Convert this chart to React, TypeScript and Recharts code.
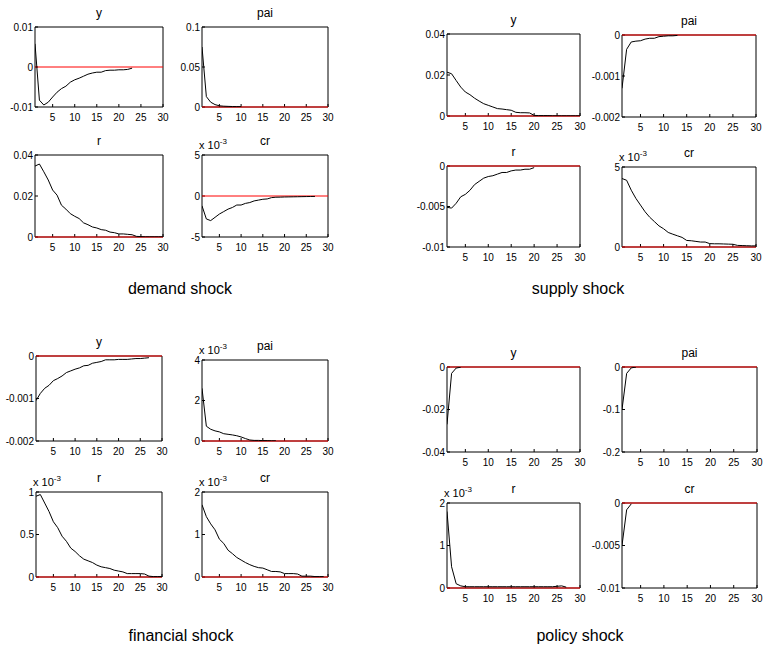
import React from 'react';
import { LineChart, Line, XAxis, YAxis, ReferenceLine } from 'recharts';

const periods = [1, 2, 3, 4, 5, 6, 7, 8, 9, 10, 11, 12, 13, 14, 15, 16, 17, 18, 19, 20, 21, 22, 23, 24, 25, 26, 27, 28, 29, 30];
const xTicks = [5, 10, 15, 20, 25, 30];

// demand shock
const demandY = [0.0058, -0.0083, -0.0095, -0.0088, -0.0075, -0.0063, -0.0054, -0.0048, -0.0038, -0.0032, -0.0028, -0.0023, -0.0018, -0.0015, -0.0013, -0.0013, -0.0009, -0.0008, -0.0008, -0.0007, -0.0007, -0.0006, -0.0003];
const demandPai = [0.075, 0.013, 0.006, 0.003, 0.0015, 0.001, 0.0008, 0.0006, 0.0005, 0.0004];
const demandR = [0.0346, 0.0356, 0.0318, 0.0278, 0.0229, 0.0204, 0.0155, 0.0136, 0.0114, 0.0101, 0.009, 0.0069, 0.006, 0.0049, 0.0044, 0.0036, 0.0033, 0.0024, 0.0021, 0.0015, 0.0015, 0.0013, 0.0011, 0.0003, 0.0002, 0.0001, 0.0001, 0.0001, 0.0001, 0.0001];
const demandCr = [-1.2, -2.8, -3.0, -2.6, -2.2, -1.9, -1.6, -1.4, -1.1, -1.1, -0.9, -0.8, -0.6, -0.5, -0.4, -0.36, -0.2, -0.15, -0.14, -0.12, -0.11, -0.1, -0.09, -0.08, -0.07, -0.06, -0.05];

// supply shock
const supplyY = [0.0214, 0.0206, 0.0173, 0.0141, 0.0117, 0.0104, 0.0087, 0.0073, 0.006, 0.0052, 0.0044, 0.0036, 0.0034, 0.0031, 0.0028, 0.0018, 0.0016, 0.0016, 0.0015, 0.0003, 0.0002, 0.0002, 0.0002, 0.0001, 0.0001, 0.0001, 0.0001, 0.0001, 0.0001, 0.0001];
const supplyPai = [-0.0013, -0.00035, -0.00017, -0.00015, -0.00014, -0.0001, -0.00008, -0.00008, -0.00004, -0.00003, -0.00002, -0.00002, -0.00001];
const supplyR = [-0.0051, -0.0052, -0.0046, -0.0038, -0.0035, -0.003, -0.0023, -0.0019, -0.0015, -0.0013, -0.0012, -0.001, -0.0008, -0.0008, -0.0006, -0.0005, -0.0005, -0.0004, -0.0004, -0.0002];
const supplyCr = [4.28, 4.17, 3.55, 3.04, 2.62, 2.2, 1.86, 1.59, 1.32, 1.14, 0.91, 0.8, 0.7, 0.6, 0.41, 0.39, 0.35, 0.31, 0.31, 0.21, 0.2, 0.2, 0.19, 0.18, 0.17, 0.1, 0.09, 0.08, 0.07, 0.07];

// financial shock
const financialY = [-0.00105, -0.00088, -0.00076, -0.00069, -0.00058, -0.00053, -0.00047, -0.00039, -0.00035, -0.00031, -0.00028, -0.00023, -0.00022, -0.00017, -0.00015, -0.00013, -0.00009, -0.00009, -0.00009, -0.00008, -0.00008, -0.00008, -0.00007, -0.00006, -0.00006, -0.00005, -0.00004];
const financialPai = [2.6, 0.73, 0.58, 0.5, 0.45, 0.36, 0.33, 0.3, 0.26, 0.2, 0.12, 0.05, 0.03, 0.03, 0.02, 0.02, 0.01, 0.01];
const financialR = [0.95, 0.97, 0.87, 0.77, 0.65, 0.58, 0.48, 0.42, 0.34, 0.3, 0.25, 0.21, 0.19, 0.17, 0.14, 0.12, 0.11, 0.1, 0.08, 0.07, 0.06, 0.04, 0.04, 0.04, 0.04, 0.035, 0.01, 0.005, 0.005, 0.005];
const financialCr = [1.7, 1.42, 1.25, 1.11, 0.89, 0.79, 0.63, 0.55, 0.46, 0.4, 0.34, 0.29, 0.25, 0.22, 0.21, 0.17, 0.13, 0.13, 0.12, 0.08, 0.08, 0.08, 0.07, 0.02, 0.02, 0.02, 0.01, 0.01, 0.01];

// policy shock
const policyY = [-0.027, -0.003, -0.0005, -0.0001];
const policyPai = [-0.1, -0.015, -0.002, -0.0003];
const policyR = [1.8, 0.5, 0.1, 0.05, 0.03, 0.03, 0.03, 0.03, 0.03, 0.03, 0.03, 0.03, 0.03, 0.03, 0.03, 0.03, 0.03, 0.03, 0.03, 0.03, 0.03, 0.03, 0.03, 0.03, 0.04, 0.05, 0.02];
const policyCr = [-0.005, -0.0008, -0.0001];

const font = '"Liberation Sans", Arial, sans-serif';

type PanelProps = {
  box: [number, number, number, number];
  title: string;
  values: number[];
  domain: [number, number];
  ticks: number[];
  scaled?: boolean;
};

function Panel({ box, title, values, domain, ticks, scaled }: PanelProps) {
  const [x0, y0, x1, y1] = box;
  const w = x1 - x0;
  const h = y1 - y0;
  const data = periods.map((p, i) => ({ x: p, v: i < values.length ? values[i] : null }));
  const tickStyle = { fontSize: 10, fontFamily: font, fill: '#000' };
  return (
    <>
      <div style={{ position: 'absolute', left: x0, width: w, top: y0 - 21, textAlign: 'center', fontSize: 12, lineHeight: '14px', fontFamily: font }}>
        {title}
      </div>
      {scaled && (
        <div style={{ position: 'absolute', left: x0 - 3, top: y0 - 16, fontSize: 11, lineHeight: '13px', fontFamily: font, whiteSpace: 'nowrap' }}>
          x 10<sup style={{ fontSize: 8, verticalAlign: 'top', position: 'relative', top: -4 }}>-3</sup>
        </div>
      )}
      <div style={{ position: 'absolute', left: x0 - 40, top: y0 - 24 }}>
        <LineChart width={w + 50} height={h + 44} data={data} margin={{ top: 23, right: 9, bottom: 0, left: 0 }}>
          <XAxis dataKey="x" type="number" domain={[1, 30]} ticks={xTicks} interval={0} height={20}
            tickSize={-3} tickMargin={10} stroke="#000" tick={tickStyle} allowDataOverflow />
          <XAxis xAxisId="t" orientation="top" dataKey="x" type="number" domain={[1, 30]} ticks={xTicks}
            interval={0} height={1} tickSize={-3} tick={false} stroke="#000" allowDataOverflow />
          <YAxis type="number" domain={domain} ticks={ticks} interval={0} width={40} tickSize={-3} tickMargin={5}
            stroke="#000" tick={tickStyle} allowDataOverflow tickFormatter={(v: number) => String(v)} />
          <YAxis yAxisId="r" orientation="right" type="number" domain={domain} ticks={ticks} interval={0} width={1}
            tickSize={-3} tick={false} stroke="#000" allowDataOverflow />
          <ReferenceLine y={0} stroke="#ff0000" strokeWidth={1} zIndex={600} />
          <Line dataKey="v" stroke="#000" strokeWidth={1} dot={false} isAnimationActive={false} zIndex={700} />
          <Line dataKey="v" xAxisId="t" yAxisId="r" stroke="none" dot={false} legendType="none" isAnimationActive={false} />
        </LineChart>
      </div>
    </>
  );
}

function Caption({ x, y, text }: { x: number; y: number; text: string }) {
  return (
    <div style={{ position: 'absolute', left: x - 100, width: 200, top: y - 10, textAlign: 'center', fontSize: 16, lineHeight: '20px', fontFamily: font }}>
      {text}
    </div>
  );
}

export default function App() {
  return (
    <div style={{ position: 'absolute', left: 0, top: 0, width: 765, height: 649, background: '#fff', overflow: 'hidden' }}>
      <Panel box={[35, 27, 163, 107]} title="y" values={demandY} domain={[-0.01, 0.01]} ticks={[-0.01, 0, 0.01]} />
      <Panel box={[202, 27, 328, 107]} title="pai" values={demandPai} domain={[0, 0.1]} ticks={[0, 0.05, 0.1]} />
      <Panel box={[35, 155, 163, 237]} title="r" values={demandR} domain={[0, 0.04]} ticks={[0, 0.02, 0.04]} />
      <Panel box={[202, 155, 328, 237]} title="cr" values={demandCr} domain={[-5, 5]} ticks={[-5, 0, 5]} scaled />
      <Caption x={180} y={289} text="demand shock" />

      <Panel box={[447, 34, 580, 116]} title="y" values={supplyY} domain={[0, 0.04]} ticks={[0, 0.02, 0.04]} />
      <Panel box={[622, 35, 756, 117]} title="pai" values={supplyPai} domain={[-0.002, 0]} ticks={[-0.002, -0.001, 0]} />
      <Panel box={[447, 166, 580, 247]} title="r" values={supplyR} domain={[-0.01, 0]} ticks={[-0.01, -0.005, 0]} />
      <Panel box={[622, 167, 756, 247]} title="cr" values={supplyCr} domain={[0, 5]} ticks={[0, 5]} scaled />
      <Caption x={578} y={289} text="supply shock" />

      <Panel box={[36, 356, 162, 441]} title="y" values={financialY} domain={[-0.002, 0]} ticks={[-0.002, -0.001, 0]} />
      <Panel box={[202, 360, 328, 441]} title="pai" values={financialPai} domain={[0, 4]} ticks={[0, 2, 4]} scaled />
      <Panel box={[36, 492, 162, 577]} title="r" values={financialR} domain={[0, 1]} ticks={[0, 0.5, 1]} scaled />
      <Panel box={[202, 492, 328, 577]} title="cr" values={financialCr} domain={[0, 2]} ticks={[0, 1, 2]} scaled />
      <Caption x={181} y={636} text="financial shock" />

      <Panel box={[447, 367, 580, 452]} title="y" values={policyY} domain={[-0.04, 0]} ticks={[-0.04, -0.02, 0]} />
      <Panel box={[622, 367, 757, 452]} title="pai" values={policyPai} domain={[-0.2, 0]} ticks={[-0.2, -0.1, 0]} />
      <Panel box={[447, 503, 580, 588]} title="r" values={policyR} domain={[0, 2]} ticks={[0, 1, 2]} scaled />
      <Panel box={[622, 503, 757, 588]} title="cr" values={policyCr} domain={[-0.01, 0]} ticks={[-0.01, -0.005, 0]} />
      <Caption x={580} y={636} text="policy shock" />
    </div>
  );
}
